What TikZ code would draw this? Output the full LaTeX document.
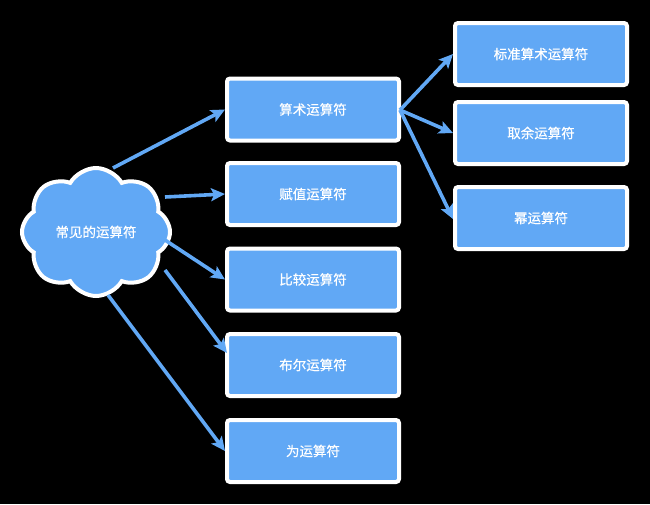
\documentclass[tikz,border=0pt]{standalone}
\usepackage{fontspec}
\newfontfamily\cjk[FakeBold=0.6]{Noto Sans CJK SC}
\usetikzlibrary{shapes.symbols,arrows.meta}
\definecolor{boxblue}{RGB}{97,168,245}
\tikzset{
  opbox/.style={draw=white, line width=4pt, fill=boxblue, rounded corners=3pt,
    minimum width=172pt, minimum height=62pt, inner sep=0pt,
    text=white, font=\cjk\fontsize{13.5pt}{16pt}\selectfont},
  conn/.style={draw=boxblue, line width=3.6pt,
    -{Stealth[length=14pt,width=13pt,inset=3pt]}},
}
\begin{document}
\begin{tikzpicture}[x=1pt,y=-1pt]
\fill[black] (0,0) rectangle (650,504);
\useasboundingbox (0,0) rectangle (650,504);
\node[cloud, cloud puffs=8, cloud puff arc=120, aspect=1.15, draw=white, line width=4pt,
  fill=boxblue, minimum width=148pt, minimum height=128pt, inner sep=0pt,
  text=white, font=\cjk\fontsize{13.5pt}{16pt}\selectfont] (cloud) at (96,232) {常见的运算符};
\node[opbox] (b1) at (313,109.5) {算术运算符};
\node[opbox] (b2) at (313,194) {赋值运算符};
\node[opbox] (b3) at (313,279.5) {比较运算符};
\node[opbox] (b4) at (313,365) {布尔运算符};
\node[opbox] (b5) at (313,451) {为运算符};
\node[opbox] (r1) at (541,54) {标准算术运算符};
\node[opbox] (r2) at (541,133) {取余运算符};
\node[opbox] (r3) at (541,218) {幂运算符};
\coordinate (c1) at (113,168);
\coordinate (c2) at (165,197);
\coordinate (c3) at (165,240);
\coordinate (c4) at (165,270);
\coordinate (c5) at (108,295);
\coordinate (s1) at (400,110);
\coordinate (e4) at (227,353);
\draw[conn] (c1) -- (b1.west);
\draw[conn] (c2) -- (b2.west);
\draw[conn] (c3) -- (b3.west);
\draw[conn] (c4) -- (e4);
\draw[conn] (c5) -- (b5.west);
\draw[conn] (s1) -- (r1.west);
\draw[conn] (s1) -- (r2.west);
\draw[conn] (s1) -- ([yshift=-1pt]r3.west);
\end{tikzpicture}
\end{document}
